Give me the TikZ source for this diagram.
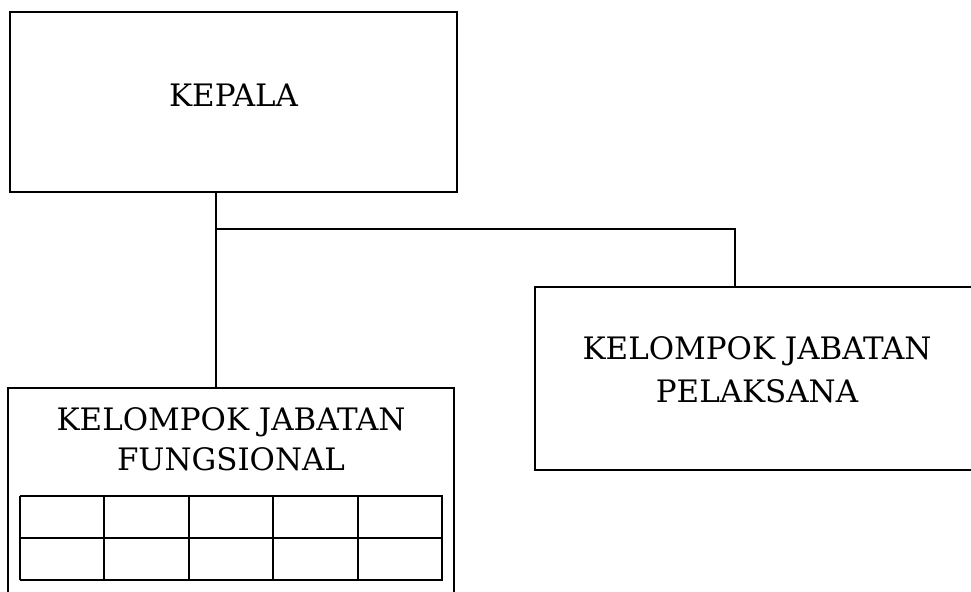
\documentclass[tikz,border=0pt]{standalone}
\usepackage{fontspec}
\setmainfont{DejaVu Serif}
\usepackage{tikz}

\tikzset{
    unitbox/.style={draw, line width=1.4pt, rectangle, align=center,
        font=\fontsize{17.6}{24}\selectfont},
}

\begin{document}
\begin{tikzpicture}
        \useasboundingbox (0,0) rectangle (19.42,11.82);
        \clip (0,0) rectangle (19.42,11.82);
        \node[unitbox, minimum width=8.94cm, minimum height=3.6cm, text depth=0.28cm] (kepala) at (4.67,9.78) {KEPALA};
        \node[unitbox, minimum width=8.88cm, minimum height=3.66cm, text depth=0.36cm] (pelaksana) at (15.14,4.25) {KELOMPOK JABATAN\\PELAKSANA};
        \node[unitbox, minimum width=8.92cm, minimum height=5cm, anchor=north,
            label={[name=fungsionaltitle, align=center, anchor=north, yshift=-0.28cm,
            font=\fontsize{17.6}{23}\selectfont]north:KELOMPOK JABATAN\\FUNGSIONAL}] (fungsional) at (4.62,4.08) {};
        \draw[line width=1.2pt, xstep=1.688, ystep=0.84, xshift=0.4cm, yshift=0.22cm] (0,0) grid (8.45,1.69);
        \coordinate (stem) at (4.32,7.98);
        \coordinate (jn) at (14.7,7.24);
        \draw[line width=1.2pt] (stem) -- (stem |- fungsional.north);
        \draw[line width=1.2pt] (stem |- jn) -- (jn) -- (jn |- pelaksana.north);
    \end{tikzpicture}
\end{document}
